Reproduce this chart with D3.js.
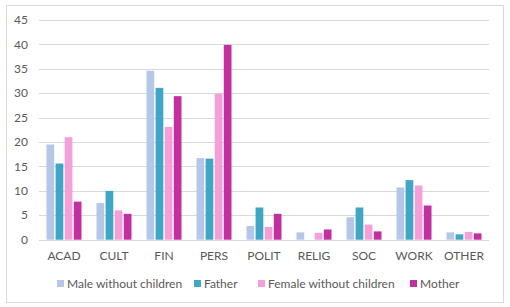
<!DOCTYPE html>
<html>
<head>
<meta charset="utf-8">
<script src="https://cdn.jsdelivr.net/npm/d3@7.8.5/dist/d3.min.js"></script>
<style>
  body { margin: 0; background: #fff; }
  svg { display: block; font-family: Lato, "Open Sans", sans-serif; }
</style>
</head>
<body>
<div id="chart"></div>
<script>
const categories = ['ACAD', 'CULT', 'FIN', 'PERS', 'POLIT', 'RELIG', 'SOC', 'WORK', 'OTHER'];
const seriesNames = ['Male without children', 'Father', 'Female without children', 'Mother'];
const maleNoChildren = [19.5, 7.5, 34.6, 16.7, 2.8, 1.5, 4.6, 10.7, 1.5];
const father = [15.6, 10.0, 31.1, 16.6, 6.6, 0, 6.6, 12.2, 1.1];
const femaleNoChildren = [21.0, 6.0, 23.1, 29.9, 2.6, 1.4, 3.1, 11.1, 1.6];
const mother = [7.8, 5.3, 29.4, 39.9, 5.3, 2.1, 1.7, 7.0, 1.3];
const yTicks = [0, 5, 10, 15, 20, 25, 30, 35, 40, 45];
const colors = ['#b4c7e7', '#3fa6c5', '#f59fd8', '#c2309f'];

const seriesValues = [maleNoChildren, father, femaleNoChildren, mother];

const width = 510, height = 307;
const margin = { top: 20, right: 21, bottom: 67.3, left: 39 };

const svg = d3.select('#chart').append('svg')
    .attr('width', width)
    .attr('height', height);

// Outer frame
svg.append('rect')
    .attr('x', 6.5).attr('y', 5.5)
    .attr('width', 497).attr('height', 297)
    .attr('fill', '#fff')
    .attr('stroke', '#d9d9d9');

const x0 = d3.scaleBand()
    .domain(categories)
    .range([margin.left, width - margin.right])
    .paddingInner(0.3)
    .paddingOuter(0.15);

const x1 = d3.scaleBand()
    .domain(seriesNames)
    .range([0, x0.bandwidth()])
    .paddingInner(0.15);

const y = d3.scaleLinear()
    .domain([0, 45])
    .range([height - margin.bottom, margin.top]);

// Gridlines
svg.append('g')
    .selectAll('line')
    .data(yTicks)
    .enter()
    .append('line')
    .attr('x1', margin.left)
    .attr('x2', width - margin.right)
    .attr('y1', d => Math.round(y(d)) + 0.5)
    .attr('y2', d => Math.round(y(d)) + 0.5)
    .style('stroke', '#d9d9d9')
    .style('stroke-width', '1px');

// Y tick labels
svg.append('g')
    .selectAll('text')
    .data(yTicks)
    .enter()
    .append('text')
    .attr('x', 28)
    .attr('y', d => y(d))
    .attr('dy', '0.35em')
    .attr('text-anchor', 'end')
    .style('font-size', '12px')
    .style('fill', '#595959')
    .text(d => d);

// Bars
const groups = svg.append('g')
    .selectAll('g')
    .data(categories)
    .enter()
    .append('g')
    .attr('transform', d => `translate(${x0(d)},0)`);

groups.selectAll('rect')
    .data((c, i) => seriesNames.map((s, j) => ({ series: s, value: seriesValues[j][i], color: colors[j] })))
    .enter()
    .append('rect')
    .attr('x', d => x1(d.series))
    .attr('y', d => y(d.value))
    .attr('width', x1.bandwidth())
    .attr('height', d => y(0) - y(d.value))
    .style('fill', d => d.color);

// X category labels
svg.append('g')
    .selectAll('text')
    .data(categories)
    .enter()
    .append('text')
    .attr('x', d => x0(d) + x0.bandwidth() / 2)
    .attr('y', 256)
    .attr('dy', '0.35em')
    .attr('text-anchor', 'middle')
    .style('font-size', '12px')
    .style('fill', '#595959')
    .text(d => d);

// Legend
const legendX = [57, 194, 258, 410];
const legend = svg.append('g')
    .selectAll('g')
    .data(seriesNames)
    .enter()
    .append('g')
    .attr('transform', (d, i) => `translate(${legendX[i]},280)`);

legend.append('rect')
    .attr('width', 7)
    .attr('height', 7)
    .style('fill', (d, i) => colors[i]);

legend.append('text')
    .attr('x', 10)
    .attr('y', 3.5)
    .attr('dy', '0.35em')
    .style('font-size', '12px')
    .style('fill', '#595959')
    .text(d => d);
</script>
</body>
</html>
